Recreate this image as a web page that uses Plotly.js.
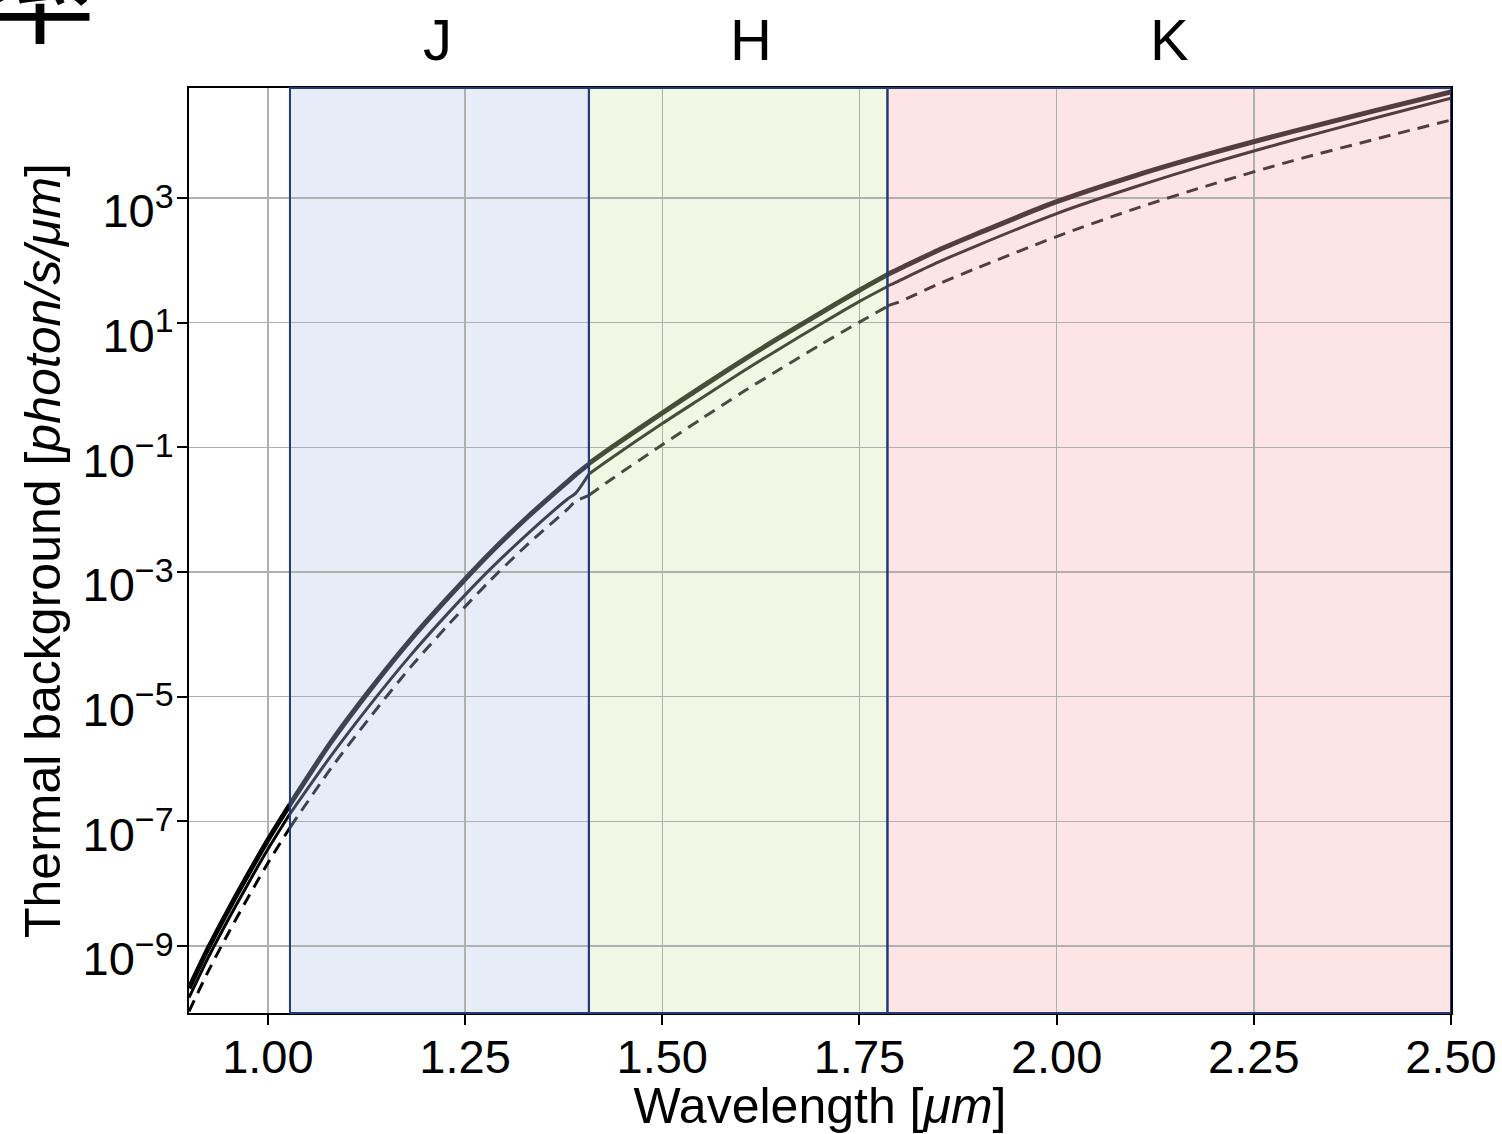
<!DOCTYPE html>
<html>
<head>
<meta charset="utf-8">
<script src="https://cdn.plot.ly/plotly-3.0.1.min.js"></script>
<style>html,body{margin:0;padding:0;background:#fff;}#chart{width:1502px;height:1134px;}</style>
</head>
<body>
<div id="chart"></div>
<script>
// Wavelength samples [um] for each segment
const wlPre = [0.90, 0.925, 0.95, 0.975, 1.0, 1.028];
const wlJ = [1.028, 1.08, 1.129, 1.18, 1.23, 1.28, 1.33, 1.38, 1.39, 1.407];
const wlH = [1.407, 1.437, 1.50, 1.55, 1.60, 1.65, 1.70, 1.75, 1.7855];
const wlK = [1.7855, 1.79, 1.80, 1.85, 1.90, 2.0, 2.1, 2.2, 2.3, 2.4, 2.5];

// Upper (thick solid) curve [photon/s/um]
const topPre = [2.09e-10, 9.55e-10, 3.80e-9, 1.41e-8, 5.01e-8, 1.86e-7];
const topJ = [1.86e-7, 1.86e-6, 1.26e-5, 7.94e-5, 4.07e-4, 1.91e-3, 7.76e-3, 2.82e-2, 3.63e-2, 5.37e-2];
const topH = [5.50e-2, 0.102, 0.355, 0.933, 2.40, 5.89, 14.1, 33.1, 58.9];
const topK = [58.9, 63.1, 72.4, 145, 269, 871, 2290, 5370, 11700, 24500, 50100];

// Middle (thin solid) curve
const midPre = [1.48e-10, 6.76e-10, 2.69e-9, 1.00e-8, 3.55e-8, 1.32e-7];
const midJ = [1.32e-7, 1.12e-6, 7.24e-6, 4.47e-5, 2.29e-4, 1.05e-3, 4.17e-3, 1.48e-2, 1.82e-2, 3.72e-2];
const midH = [3.72e-2, 6.92e-2, 0.240, 0.617, 1.58, 3.89, 9.33, 21.9, 38.0];
const midK = [38.9, 40.7, 46.8, 93.3, 174, 562, 1510, 3720, 8510, 18600, 39800];

// Lower (dashed) curve
const dashPre = [8.91e-11, 4.07e-10, 1.62e-9, 6.03e-9, 2.14e-8, 7.94e-8];
const dashJ = [7.94e-8, 7.08e-7, 4.57e-6, 2.88e-5, 1.48e-4, 6.92e-4, 2.82e-3, 1.02e-2, 1.35e-2, 1.70e-2];
const dashH = [1.70e-2, 3.16e-2, 0.110, 0.288, 0.741, 1.82, 4.37, 10.2, 18.2];
const dashK = [18.6, 19.5, 21.4, 41.7, 75.9, 240, 676, 1700, 3980, 8510, 17800];

// Photometric bands
const bandNames = ['J', 'H', 'K'];
const bandStart = [1.028, 1.407, 1.7855];
const bandEnd = [1.407, 1.7855, 2.5];
const bandLabelX = [1.215, 1.613, 2.143];
const bandFill = ['#e6ecf8', '#f0f8e5', '#fde4e5'];

const xTicks = [1.00, 1.25, 1.50, 1.75, 2.00, 2.25, 2.50];
const yTickVals = [1e-9, 1e-7, 1e-5, 1e-3, 1e-1, 1e1, 1e3];
const yTickExp = ['−9', '−7', '−5', '−3', '−1', '1', '3'];

const segments = [
  {x: wlPre, t: topPre, m: midPre, d: dashPre, c: '#000000'},
  {x: wlJ, t: topJ, m: midJ, d: dashJ, c: '#3d4351'},
  {x: wlH, t: topH, m: midH, d: dashH, c: '#474e36'},
  {x: wlK, t: topK, m: midK, d: dashK, c: '#533d3d'}
];

const traces = [];
segments.forEach(s => {
  traces.push({x: s.x, y: s.d, mode: 'lines', line: {color: s.c, width: 3, dash: '12px,8px', shape: 'spline', smoothing: 0.8}, hoverinfo: 'skip'});
  traces.push({x: s.x, y: s.m, mode: 'lines', line: {color: s.c, width: 3, shape: 'spline', smoothing: 0.8}, hoverinfo: 'skip'});
  traces.push({x: s.x, y: s.t, mode: 'lines', line: {color: s.c, width: 5, shape: 'spline', smoothing: 0.8}, hoverinfo: 'skip'});
});

const shapes = [];
bandNames.forEach((b, i) => {
  shapes.push({type: 'rect', xref: 'x', yref: 'paper', x0: bandStart[i], x1: bandEnd[i], y0: 0, y1: 1,
    fillcolor: bandFill[i], line: {width: 0}, layer: 'below'});
});
bandNames.forEach((b, i) => {
  shapes.push({type: 'rect', xref: 'x', yref: 'paper', x0: bandStart[i], x1: bandEnd[i], y0: 0, y1: 1,
    fillcolor: 'rgba(0,0,0,0)', line: {width: 2, color: '#1f3c78'}, layer: 'above'});
});

const font = 'Liberation Sans, Arial, sans-serif';
const annotations = bandNames.map((b, i) => ({
  text: b, x: bandLabelX[i], xref: 'x', y: 1.052, yref: 'paper', showarrow: false,
  xanchor: 'center', yanchor: 'middle', font: {size: 58, color: '#000', family: font}
}));
annotations.push({text: '率', xref: 'paper', yref: 'paper', x: -0.118, y: 1.021, xanchor: 'center', yanchor: 'bottom',
  showarrow: false, font: {size: 110, color: '#000', family: 'Noto Sans CJK SC, sans-serif'}});

const layout = {
  width: 1502, height: 1134,
  margin: {l: 189, r: 51, t: 88, b: 121},
  paper_bgcolor: '#fff', plot_bgcolor: '#fff',
  showlegend: false,
  font: {family: font, color: '#000', size: 46},
  xaxis: {
    range: [0.9, 2.5], tickvals: xTicks, ticktext: xTicks.map(v => v.toFixed(2)),
    showgrid: true, gridcolor: '#b0b0b0', gridwidth: 1.5,
    showline: true, linecolor: '#000', linewidth: 2, mirror: true,
    ticks: 'outside', ticklen: 10, tickwidth: 2, tickcolor: '#000',
    tickfont: {size: 47, family: font}, zeroline: false, ticklabelstandoff: -8,
    title: {text: 'Wavelength [<i>μm</i>]', font: {size: 50, family: font}, standoff: 6}
  },
  yaxis: {
    type: 'log', range: [-10.075, 4.764], tickvals: yTickVals,
    ticktext: yTickExp.map(e => '10<sup><span style="font-size:34px">' + e + '</span></sup>'),
    showgrid: true, gridcolor: '#b0b0b0', gridwidth: 1.5,
    showline: true, linecolor: '#000', linewidth: 2, mirror: true,
    ticks: 'outside', ticklen: 10, tickwidth: 2, tickcolor: '#000',
    tickfont: {size: 47, family: font}, zeroline: false, ticklabelshift: 13, ticklabelstandoff: -6,
    title: {text: 'Thermal background [<i>photon/s/μm</i>]', font: {size: 50, family: font}, standoff: 6}
  },
  shapes: shapes,
  annotations: annotations
};

Plotly.newPlot('chart', traces, layout, {staticPlot: true, displayModeBar: false});
</script>
</body>
</html>
